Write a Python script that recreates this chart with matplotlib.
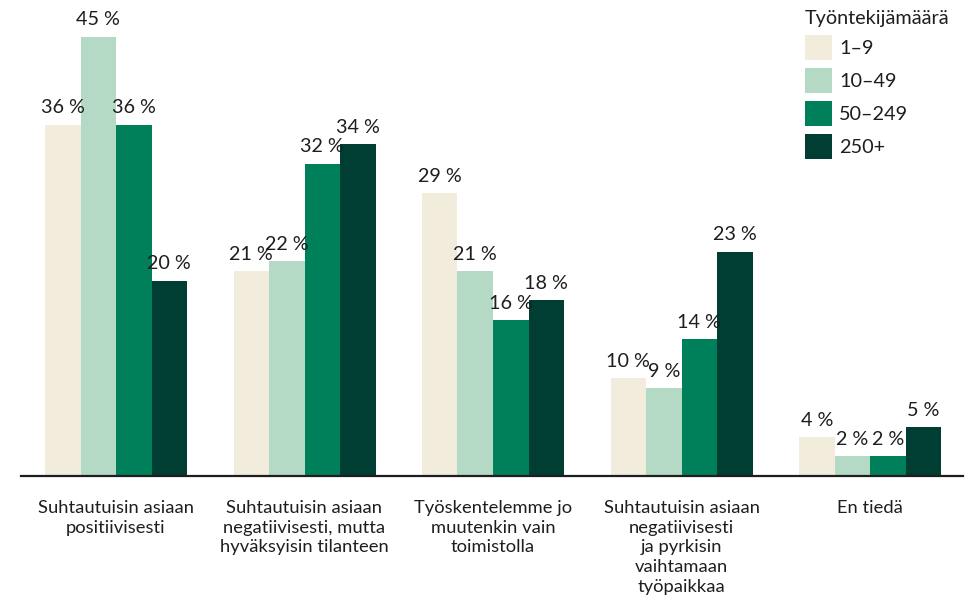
import matplotlib.pyplot as plt
import numpy as np

plt.rcParams["font.family"] = ["Lato", "DejaVu Sans"]

categories = [
    "Suhtautuisin asiaan\npositiivisesti",
    "Suhtautuisin asiaan\nnegatiivisesti, mutta\nhyväksyisin tilanteen",
    "Työskentelemme jo\nmuutenkin vain\ntoimistolla",
    "Suhtautuisin asiaan\nnegatiivisesti\nja pyrkisin\nvaihtamaan\ntyöpaikkaa",
    "En tiedä",
]
series_labels = ["1–9", "10–49", "50–249", "250+"]
values_1_9 = [36, 21, 29, 10, 4]
values_10_49 = [45, 22, 21, 9, 2]
values_50_249 = [36, 32, 16, 14, 2]
values_250 = [20, 34, 18, 23, 5]
colors = ["#f2ecdc", "#b4d9c5", "#00805a", "#003d33"]
text_color = "#1e1e1e"

series = [values_1_9, values_10_49, values_50_249, values_250]

W, H = 971, 595
fig = plt.figure(figsize=(W / 100, H / 100), dpi=100)
base_y = 476
px_per_unit = 9.76
ymax = 48
ax = fig.add_axes([21 / W, 1 - base_y / H, (963 - 21) / W, ymax * px_per_unit / H])

x = np.arange(len(categories))
width = 35.5 / 188.5
for i, (vals, col, lab) in enumerate(zip(series, colors, series_labels)):
    pos = x + (i - 1.5) * width
    ax.bar(pos, vals, width=width, color=col, label=lab, linewidth=0)
    for p, v in zip(pos, vals):
        ax.annotate(f"{v} %", (p, v), xytext=(0, 6), textcoords="offset points",
                    ha="center", va="bottom", fontsize=14.2, color=text_color)

ax.set_xlim(-95 / 188.5, 4 + 93 / 188.5)
ax.set_ylim(0, ymax)
for side in ["top", "right", "left"]:
    ax.spines[side].set_visible(False)
ax.spines["bottom"].set_color("#1e1e1e")
ax.spines["bottom"].set_linewidth(1.6)
ax.set_yticks([])
ax.set_xticks(x)
ax.set_xticklabels(categories, fontsize=13.2, color=text_color, linespacing=1.3)
ax.tick_params(axis="x", length=0, pad=17)

leg = ax.legend(title="Työntekijämäärä", loc="upper left",
                bbox_to_anchor=(805 / W, 1 - 10 / H), bbox_transform=fig.transFigure,
                frameon=False, fontsize=14.3, title_fontsize=14.3,
                handlelength=1.36, handleheight=1.6, labelspacing=0.38,
                handletextpad=0.35, borderpad=0, borderaxespad=0,
                alignment="left")
for t in leg.get_texts():
    t.set_color(text_color)
leg.get_title().set_color(text_color)

fig.savefig("out.png", dpi=100, facecolor="white")
